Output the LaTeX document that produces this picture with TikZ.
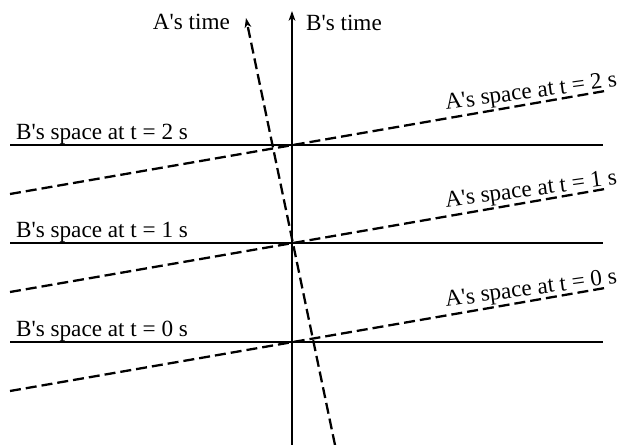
\documentclass[tikz,border=0pt]{standalone}
\usepackage{fontspec}
\setmainfont{Liberation Serif}[Ligatures=TeXOff]
\usetikzlibrary{arrows.meta, positioning, calc}

\begin{document}
\begin{tikzpicture}[x=0.02cm, y=-0.02cm, line width=1.3pt,
    >={Stealth[length=5.5pt, width=3.8pt, inset=1.5pt]},
    every node/.style={font=\fontsize{13.2}{15}\selectfont, inner sep=0pt},
    frame/.style={dash pattern=on 0.22cm off 0.1cm}]
  \useasboundingbox (0,0) rectangle (623,445);
  % time axes
  \coordinate (Bbot) at (292,445);
  \coordinate (Btop) at (292,11);
  \coordinate (Abot) at (335,445);
  \coordinate (Atop) at (246,18);
  \draw[->] (Bbot) -- (Btop);
  \draw[->, frame] (Abot) -- (Atop);
  \node (Btime) [anchor=base west] at (305,31) {B's time};
  \node (Atime) [anchor=base east] at (231,30) {A's time};
  % space lines
  \foreach \k/\y in {0/342, 1/243, 2/145} {
    \coordinate (O\k) at (292,\y);
    \coordinate (Bl\k) at (10,\y);
    \coordinate (Br\k) at (603,\y);
    \coordinate (Al\k) at (10,\y+49);
    \coordinate (Ar\k) at (605,\y-54);
    \draw (Bl\k) -- (Br\k);
    \draw[frame] (Al\k) -- (Ar\k);
    \node (Bsp\k) [anchor=base west] at (15,\y-5) {B's space at t = \k\ s};
    \node (Asp\k) [anchor=base west, rotate=7.8] at (445,\y-35) {A's space at t = \k\ s};
  }
\end{tikzpicture}
\end{document}
